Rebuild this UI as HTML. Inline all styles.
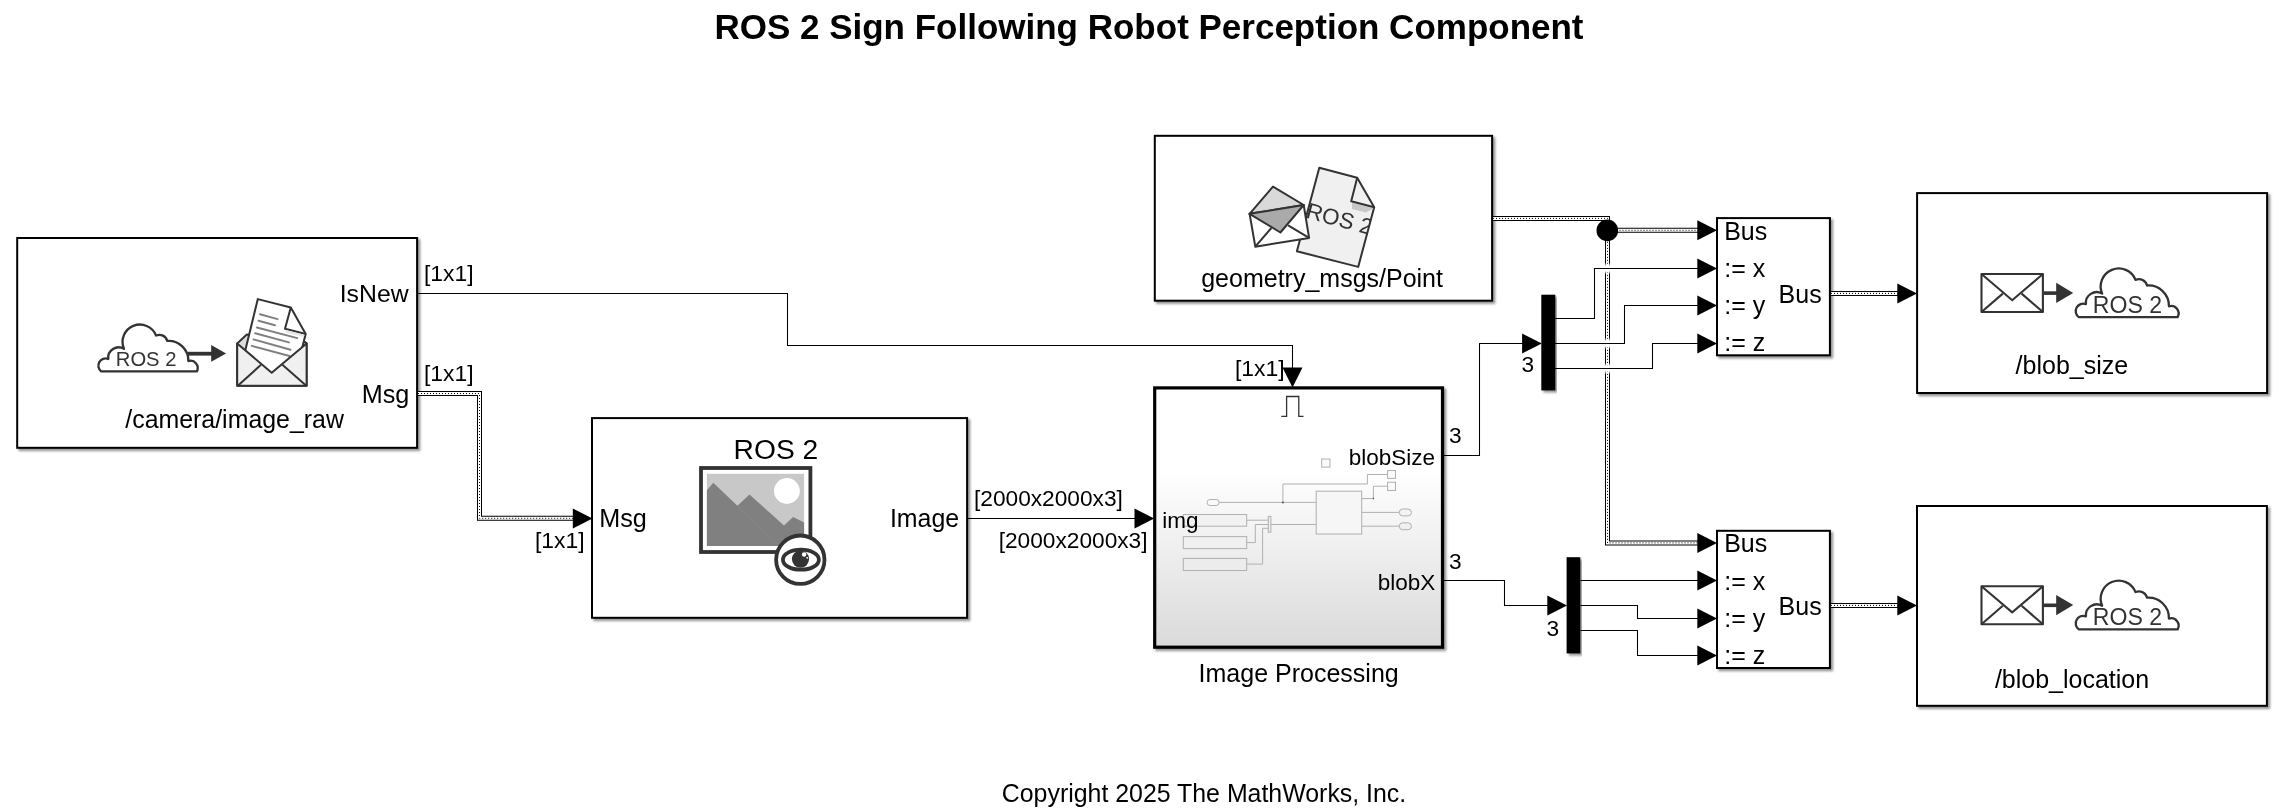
<!DOCTYPE html>
<html><head><meta charset="utf-8">
<style>
html,body{margin:0;padding:0;background:#fff;width:2293px;height:812px;overflow:hidden}
svg{display:block;will-change:transform}
text{font-family:"Liberation Sans",sans-serif;fill:#000}
</style></head><body>
<svg width="2293" height="812" viewBox="0 0 2293 812">
<defs>
<linearGradient id="ipg" x1="0" y1="0" x2="0" y2="1">
<stop offset="0" stop-color="#ffffff"/>
<stop offset="0.32" stop-color="#ffffff"/>
<stop offset="1" stop-color="#dadada"/>
</linearGradient>
<filter id="sh" x="-10%" y="-10%" width="120%" height="120%">
<feDropShadow dx="2.2" dy="2.2" stdDeviation="0.9" flood-color="#000" flood-opacity="0.42"/>
</filter>
</defs>

<text x="714.4" y="38.6" font-size="35" font-weight="bold">ROS 2 Sign Following Robot Perception Component</text>
<g fill="#fff" stroke="#000" stroke-width="2" filter="url(#sh)">
<rect x="17.2" y="238" width="399.9" height="209.8"/>
<rect x="592" y="418.1" width="375.1" height="199.7"/>
<rect x="1154.8" y="135.8" width="337.3" height="164.9"/>
<rect x="1717" y="218.1" width="112.9" height="137.2"/>
<rect x="1717" y="530.8" width="112.9" height="137.2"/>
<rect x="1917.1" y="193.1" width="350" height="199.9"/>
<rect x="1917" y="506" width="349.9" height="199.8"/>
</g>
<rect x="1154.7" y="387.9" width="287.8" height="259.3" fill="url(#ipg)" stroke="#000" stroke-width="3.2" filter="url(#sh)"/>
<rect x="1541.3" y="294.7" width="14" height="95.7" fill="#000" filter="url(#sh)"/>
<rect x="1566.6" y="557.2" width="13.7" height="96.2" fill="#000" filter="url(#sh)"/>
<g transform="translate(96.8,372.6) scale(0.966)"><path d="M4.70,-1.20 A7.44,7.44 0 0 1 11.87,-14.11 A10.80,10.80 0 0 1 28.13,-24.58 A18.00,18.00 0 1 1 61.38,-38.37 A8.40,8.40 0 0 1 72.95,-32.75 A20.40,20.40 0 0 1 94.79,-11.91 A7.44,7.44 0 0 1 103.51,-1.20 Z" fill="#fff" stroke="#333" stroke-width="2.4" stroke-linejoin="round"/></g>
<text x="115.8" y="366.3" font-size="20.2" style="fill:#333">ROS 2</text>
<rect x="188" y="351.8" width="24" height="3.8" fill="#333"/>
<polygon points="211.2,344.9 226.1,353.5 211.2,361.8" fill="#333"/>
<g stroke="#333" stroke-width="2" stroke-linejoin="round">
<polygon points="237.2,343.4 246.8,334.6 303.7,341.1 306.6,343.4 306.6,385.8 237.2,385.8" fill="#dcdcdc"/>
<polygon points="257.8,299.1 290.8,307.5 305.7,334 293,383 240,372" fill="#fff"/>
<polyline points="290.8,307.5 285,328.8 305.7,334" fill="none"/>
</g>
<polygon points="286,330 304.5,334.8 303.8,337 285.5,332.5" fill="#e6e6e6"/>
<g stroke="#808080" stroke-width="2" stroke-linecap="round"><line x1="260" y1="314.3" x2="277.6" y2="319.1"/><line x1="258.5" y1="320.8" x2="275" y2="325.2"/><line x1="256.9" y1="327.5" x2="297.3" y2="338.1"/><line x1="255.2" y1="333.3" x2="288.9" y2="342.4"/><line x1="253.5" y1="339.4" x2="290.5" y2="349.8"/><line x1="251.7" y1="345.9" x2="289.5" y2="356"/></g>
<g stroke="#333" stroke-width="2" stroke-linejoin="round">
<polygon points="237.2,343.4 271.7,372.8 306.6,343.4 306.6,385.8 237.2,385.8" fill="#f0f0f0"/>
<line x1="237.8" y1="385.7" x2="261" y2="364.8"/>
<line x1="306.3" y1="385.7" x2="282.4" y2="364.8"/>
</g>
<rect x="701" y="468" width="109.4" height="84" fill="#fff" stroke="#333" stroke-width="3.8"/>
<rect x="706.9" y="473.8" width="97.2" height="72.1" fill="#c8c8c8"/>
<circle cx="786.9" cy="491" r="12.9" fill="#fff"/>
<polygon points="706.9,490.2 713.3,482.8 737.4,505.7 749.5,494.5 784,525.5 793.1,516.9 804.1,522.4 804.1,545.9 706.9,545.9" fill="#808080"/>
<line x1="737.4" y1="505.7" x2="779" y2="545.9" stroke="#8a8a8a" stroke-width="0.6"/>
<circle cx="800.3" cy="559.7" r="24.2" fill="#fff" stroke="#333" stroke-width="3.8"/>
<ellipse cx="800.9" cy="559.7" rx="18" ry="10" fill="#fff" stroke="#333" stroke-width="3.8"/>
<circle cx="800.5" cy="559.1" r="8.6" fill="#333"/>
<circle cx="804.1" cy="554.5" r="2.2" fill="#fff"/>
<circle cx="807.2" cy="557.8" r="0.9" fill="#fff"/>
<polyline points="1281.3,416.4 1286.6,416.4 1286.6,396.5 1298.8,396.5 1298.8,416.4 1303.5,416.4" fill="none" stroke="#333" stroke-width="1.3"/>
<g fill="none" stroke="#b0b0b0" stroke-width="1">
<rect x="1321.7" y="459" width="8.3" height="8.1" fill="#fafafa"/>
<rect x="1207.1" y="499.5" width="12" height="6" rx="3" ry="3" fill="#fafafa"/>
<polyline points="1219.1,502.4 1316.2,502.4"/>
<polyline points="1282.9,502.4 1282.9,484 1367.4,484 1367.4,474.5 1387.6,474.5"/>
<rect x="1387.6" y="470.5" width="7.9" height="7.9" fill="#fafafa"/>
<rect x="1387.6" y="482.2" width="7.9" height="8.3" fill="#fafafa"/>
<rect x="1316.2" y="491.2" width="45.5" height="42.8" fill="#f6f6f6"/>
<polyline points="1361.7,498.6 1373.4,498.6 1373.4,486.2 1387.6,486.2"/>
<polyline points="1361.7,512.4 1399.3,512.4"/>
<polyline points="1361.7,526.2 1399.3,526.2"/>
<rect x="1399.3" y="509" width="12.1" height="6.9" rx="3.4" ry="3.4" fill="#f4f4f4"/>
<rect x="1399.3" y="522.8" width="12.1" height="6.9" rx="3.4" ry="3.4" fill="#f0f0f0"/>
<polyline points="1270.9,524.5 1316.2,524.5"/>
<rect x="1268.3" y="516.4" width="2.6" height="15.8" fill="#eee"/>
<rect x="1183.3" y="514.5" width="63.4" height="11.7" fill="#f2f2f2"/>
<rect x="1183.3" y="536.6" width="63.4" height="12" fill="#f0f0f0"/>
<rect x="1183.3" y="558.4" width="63.4" height="12.1" fill="#ececec"/>
<polyline points="1246.7,520.2 1268.3,520.2"/>
<polyline points="1246.7,542.6 1255.3,542.6 1255.3,524.5 1268.3,524.5"/>
<polyline points="1246.7,564.1 1262.6,564.1 1262.6,528.3 1268.3,528.3"/>
</g>
<circle cx="1282.9" cy="502.4" r="1" fill="#555"/>
<circle cx="1373.4" cy="498.6" r="0.8" fill="#555"/>
<defs><clipPath id="docclip"><polygon points="1319.3,167.8 1357.2,177.7 1374.2,207.2 1358.2,266.9 1296.9,251.3"/></clipPath></defs>
<polygon points="1319.3,167.8 1357.2,177.7 1374.2,207.2 1358.2,266.9 1296.9,251.3" fill="#f0f0f0" stroke="#333" stroke-width="2" stroke-linejoin="round"/>
<polygon points="1352,202.5 1373.6,208.2 1366,212.5 1352,209" fill="#c8c8c8"/>
<polyline points="1357.2,177.7 1351.2,201.3 1374.2,207.2" fill="none" stroke="#333" stroke-width="2" stroke-linejoin="round"/>
<g clip-path="url(#docclip)"><text x="0" y="0" font-size="22.4" style="fill:#333" transform="translate(1305,217.5) rotate(15)">ROS 2</text></g>
<g stroke="#333" stroke-width="2" stroke-linejoin="round">
<polygon points="1249.6,213.8 1303.7,205 1309.1,237.9 1255.3,246.7" fill="#fff"/>
<polygon points="1249.6,213.8 1273,186.6 1303.7,205" fill="#d9d9d9"/>
<polygon points="1249.6,213.8 1303.7,205 1280.4,232.5" fill="#aaa"/>
<line x1="1255.3" y1="246.7" x2="1271.4" y2="228"/>
<line x1="1309.1" y1="237.9" x2="1288.1" y2="225.4"/>
</g>
<g transform="translate(0,0)">
<rect x="1981.5" y="274" width="61.4" height="38" fill="#fff" stroke="#333" stroke-width="2.1" stroke-linejoin="round"/>
<polyline points="1981.5,274 2012.2,300.2 2042.9,274" fill="none" stroke="#333" stroke-width="2.1"/>
<line x1="1981.5" y1="312" x2="2002.8" y2="293.6" stroke="#333" stroke-width="2.1"/>
<line x1="2042.9" y1="312" x2="2021.6" y2="293.6" stroke="#333" stroke-width="2.1"/>
<rect x="2043.5" y="291.3" width="13.5" height="3.6" fill="#333"/>
<polygon points="2056.2,282.8 2073.2,292.9 2056.2,303" fill="#333"/>
<g transform="translate(2074.1,318.3) scale(1)"><path d="M4.68,-1.15 A7.49,7.49 0 0 1 11.81,-14.18 A10.85,10.85 0 0 1 28.02,-24.70 A18.05,18.05 0 1 1 61.40,-38.44 A8.45,8.45 0 0 1 72.98,-32.80 A20.45,20.45 0 0 1 94.85,-11.97 A7.49,7.49 0 0 1 103.54,-1.15 Z" fill="#fff" stroke="#333" stroke-width="2.3" stroke-linejoin="round"/></g>
<text x="2092.8" y="313.3" font-size="23.1" style="fill:#333">ROS 2</text>
</g>
<g transform="translate(0,312.2)">
<rect x="1981.5" y="274" width="61.4" height="38" fill="#fff" stroke="#333" stroke-width="2.1" stroke-linejoin="round"/>
<polyline points="1981.5,274 2012.2,300.2 2042.9,274" fill="none" stroke="#333" stroke-width="2.1"/>
<line x1="1981.5" y1="312" x2="2002.8" y2="293.6" stroke="#333" stroke-width="2.1"/>
<line x1="2042.9" y1="312" x2="2021.6" y2="293.6" stroke="#333" stroke-width="2.1"/>
<rect x="2043.5" y="291.3" width="13.5" height="3.6" fill="#333"/>
<polygon points="2056.2,282.8 2073.2,292.9 2056.2,303" fill="#333"/>
<g transform="translate(2074.1,318.3) scale(1)"><path d="M4.68,-1.15 A7.49,7.49 0 0 1 11.81,-14.18 A10.85,10.85 0 0 1 28.02,-24.70 A18.05,18.05 0 1 1 61.40,-38.44 A8.45,8.45 0 0 1 72.98,-32.80 A20.45,20.45 0 0 1 94.85,-11.97 A7.49,7.49 0 0 1 103.54,-1.15 Z" fill="#fff" stroke="#333" stroke-width="2.3" stroke-linejoin="round"/></g>
<text x="2092.8" y="313.3" font-size="23.1" style="fill:#333">ROS 2</text>
</g>
<g fill="none">
<polyline points="418,393.5 479.5,393.5 479.5,518.3 576,518.3" stroke="#000" stroke-width="5"/><polyline points="418,393.5 479.5,393.5 479.5,518.3 576,518.3" stroke="#fff" stroke-width="3"/><polyline points="418,393.5 479.5,393.5 479.5,518.3 576,518.3" stroke="#000" stroke-width="1" stroke-dasharray="1 2"/>
<polyline points="1493,218.4 1607.5,218.4 1607.5,542.9 1700,542.9" stroke="#000" stroke-width="5"/><polyline points="1493,218.4 1607.5,218.4 1607.5,542.9 1700,542.9" stroke="#fff" stroke-width="3"/><polyline points="1493,218.4 1607.5,218.4 1607.5,542.9 1700,542.9" stroke="#000" stroke-width="1" stroke-dasharray="1 2"/>
<polyline points="1607.5,230.3 1700,230.3" stroke="#000" stroke-width="5"/><polyline points="1607.5,230.3 1700,230.3" stroke="#fff" stroke-width="3"/><polyline points="1607.5,230.3 1700,230.3" stroke="#000" stroke-width="1" stroke-dasharray="1 2"/>
<polyline points="1831,293.4 1900,293.4" stroke="#000" stroke-width="5"/><polyline points="1831,293.4 1900,293.4" stroke="#fff" stroke-width="3"/><polyline points="1831,293.4 1900,293.4" stroke="#000" stroke-width="1" stroke-dasharray="1 2"/>
<polyline points="1831,605.4 1900,605.4" stroke="#000" stroke-width="5"/><polyline points="1831,605.4 1900,605.4" stroke="#fff" stroke-width="3"/><polyline points="1831,605.4 1900,605.4" stroke="#000" stroke-width="1" stroke-dasharray="1 2"/>
</g>
<circle cx="1607.3" cy="230.4" r="10.8" fill="#000"/>
<defs><linearGradient id="gapg" x1="0" y1="0" x2="0" y2="1"><stop offset="0" stop-color="#fff" stop-opacity="0"/><stop offset="0.3" stop-color="#fff" stop-opacity="1"/><stop offset="0.7" stop-color="#fff" stop-opacity="1"/><stop offset="1" stop-color="#fff" stop-opacity="0"/></linearGradient></defs>
<rect x="1604" y="262.5" width="7" height="12" fill="url(#gapg)"/>
<rect x="1604" y="337.5" width="7" height="12" fill="url(#gapg)"/>
<rect x="1604" y="362.5" width="7" height="12" fill="url(#gapg)"/>
<g fill="none" stroke="#000" stroke-width="1.05">
<polyline points="418,293.5 787.5,293.5 787.5,345.5 1292.5,345.5 1292.5,370"/>
<polyline points="968,518.5 1136,518.5"/>
<polyline points="1444,455.5 1479.5,455.5 1479.5,343.5 1524,343.5"/>
<polyline points="1444,580.5 1504.5,580.5 1504.5,605.5 1549,605.5"/>
<polyline points="1555,318.5 1594.5,318.5 1594.5,268.5 1700,268.5"/>
<polyline points="1555,343.5 1624.5,343.5 1624.5,305.5 1700,305.5"/>
<polyline points="1555,368.5 1652.5,368.5 1652.5,343.5 1700,343.5"/>
<polyline points="1580.5,580.5 1700,580.5"/>
<polyline points="1580.5,605.5 1637.5,605.5 1637.5,618.5 1700,618.5"/>
<polyline points="1580.5,630.5 1637.5,630.5 1637.5,655.5 1700,655.5"/>
</g>
<g fill="#000">
<polygon points="1282.5,367.5 1302.5,367.5 1292.5,387.5"/>
<polygon points="572.8,508.5 592.5,518.5 572.8,528.5"/>
<polygon points="1134.5,508.5 1154.2,518.5 1134.5,528.5"/>
<polygon points="1522.1,333.5 1541.8,343.5 1522.1,353.5"/>
<polygon points="1547.3,595.5 1567,605.5 1547.3,615.5"/>
<polygon points="1697.3,220.3 1717,230.3 1697.3,240.3"/>
<polygon points="1697.3,258.5 1717,268.5 1697.3,278.5"/>
<polygon points="1697.3,295.5 1717,305.5 1697.3,315.5"/>
<polygon points="1697.3,333.5 1717,343.5 1697.3,353.5"/>
<polygon points="1697.3,532.9 1717,542.9 1697.3,552.9"/>
<polygon points="1697.3,570.5 1717,580.5 1697.3,590.5"/>
<polygon points="1697.3,608.5 1717,618.5 1697.3,628.5"/>
<polygon points="1697.3,645.5 1717,655.5 1697.3,665.5"/>
<polygon points="1897.3,283.4 1917,293.4 1897.3,303.4"/>
<polygon points="1897.3,595.4 1917,605.4 1897.3,615.4"/>
</g>
<text x="339.7" y="301.7" font-size="24.8">IsNew</text>
<text x="361.8" y="402.5" font-size="25.2">Msg</text>
<text x="125.3" y="427.5" font-size="24.9">/camera/image_raw</text>
<text x="599.2" y="527.4" font-size="25.2">Msg</text>
<text x="733.6" y="459.3" font-size="28.2">ROS 2</text>
<text x="889.9" y="527.3" font-size="24.9">Image</text>
<text x="1348.8" y="464.8" font-size="22.5">blobSize</text>
<text x="1377.8" y="590" font-size="22.5">blobX</text>
<text x="1162.3" y="528" font-size="22.5">img</text>
<text x="1198.6" y="681.6" font-size="25">Image Processing</text>
<text x="1201.2" y="287.1" font-size="25">geometry_msgs/Point</text>
<text x="2015.6" y="374.2" font-size="25">/blob_size</text>
<text x="1994.9" y="687.9" font-size="25">/blob_location</text>
<text x="1001.8" y="801.9" font-size="24.9">Copyright 2025 The MathWorks, Inc.</text>
<text x="1724.2" y="239.5" font-size="25">Bus</text>
<text x="1724.2" y="277.1" font-size="25">:= x</text>
<text x="1724.2" y="314.2" font-size="25">:= y</text>
<text x="1724.2" y="351.2" font-size="25">:= z</text>
<text x="1778.6" y="302.5" font-size="25">Bus</text>
<text x="1724.2" y="552.2" font-size="25">Bus</text>
<text x="1724.2" y="589.8" font-size="25">:= x</text>
<text x="1724.2" y="626.9" font-size="25">:= y</text>
<text x="1724.2" y="663.9" font-size="25">:= z</text>
<text x="1778.6" y="615.2" font-size="25">Bus</text>
<text x="424" y="280.9" font-size="22.9">[1x1]</text>
<text x="424" y="381" font-size="22.9">[1x1]</text>
<text x="1235" y="375.6" font-size="22.9">[1x1]</text>
<text x="535" y="548" font-size="22.9">[1x1]</text>
<text x="974" y="506" font-size="22.7">[2000x2000x3]</text>
<text x="998.7" y="547.9" font-size="22.7">[2000x2000x3]</text>
<text x="1449.1" y="443.2" font-size="22.7">3</text>
<text x="1449.1" y="568.5" font-size="22.7">3</text>
<text x="1521.5" y="372.3" font-size="22.7">3</text>
<text x="1546.5" y="636" font-size="22.7">3</text>
</svg></body></html>
